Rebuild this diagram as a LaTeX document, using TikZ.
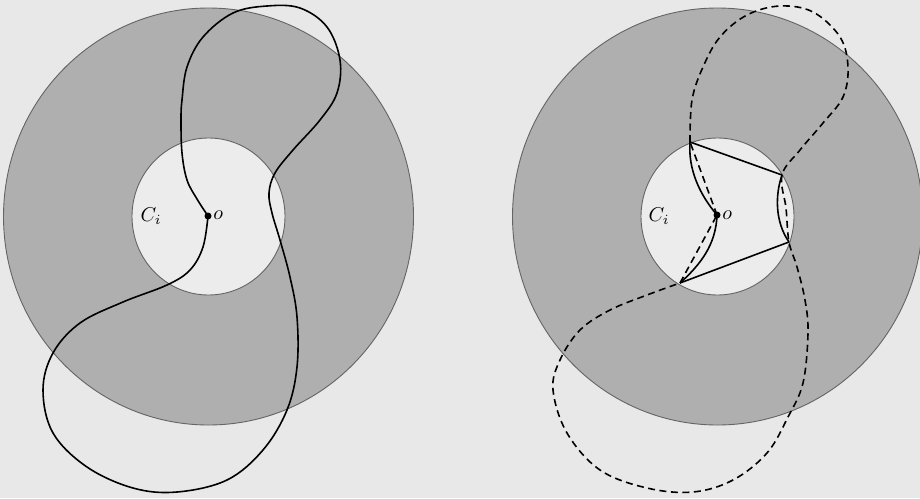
\documentclass[tikz,border=0pt]{standalone}
\begin{document}
\begin{tikzpicture}[x=1pt,y=-1pt,
  annulus/.style={fill=ringgray,draw=rimgray,line width=0.9pt,even odd rule},
  innerdisk/.style={fill=diskgray,draw=rimgray,line width=0.9pt},
  curve/.style={line width=1.6pt,black},
  dashcurve/.style={line width=1.6pt,black,dash pattern=on 7pt off 4.5pt},
  dot/.style={circle,fill=black,inner sep=0pt,minimum size=7pt},
  lab/.style={scale=2.0,inner sep=0pt}]
\definecolor{bggray}{RGB}{232,232,232}
\definecolor{ringgray}{RGB}{175,175,175}
\definecolor{diskgray}{RGB}{236,236,236}
\definecolor{rimgray}{RGB}{100,100,100}
\fill[bggray] (0,0) rectangle (920,498);
\useasboundingbox (0,0) rectangle (920,498);

% ---------- left figure ----------
\coordinate (cl) at (208.5,216.5);
\draw[annulus] (cl) ellipse [x radius=205pt, y radius=208.5pt];
\draw[innerdisk] (cl) ellipse [x radius=76.5pt, y radius=78.5pt];
\node[dot] (o1) at (208,216) {};
\node[lab,anchor=west] (lo1) at (213,215) {$o$};
\node[lab] (ci1) at (151,216) {$C_i$};
\draw[curve] plot[smooth,tension=0.6] coordinates {
 (208,216) (197,199) (187,180) (182,153) (181,120) (182,100) (187,67) (203,37)
 (233,13) (267,6) (300,8) (327,27) (340,60) (337,93) (320,120) (293,150)
 (275,173) (269,193) (272,213) (280,240) (290,277) (297,317) (297,367)
 (287,410) (263,450) (227,480) (177,492) (133,488) (87,467) (53,433)
 (43,390) (53,353) (80,323) (123,302) (167,285) (190,270) (203,247) (208,216)};

% ---------- right figure ----------
\coordinate (cr) at (717.5,216.5);
\draw[annulus] (cr) ellipse [x radius=205pt, y radius=208.5pt];
\draw[innerdisk] (cr) ellipse [x radius=76.5pt, y radius=78.5pt];
\coordinate (A) at (690,142);
\coordinate (B) at (782,175);
\coordinate (C) at (789,242);
\coordinate (D) at (680,283);
\node[dot] (o2) at (717,215) {};
\node[lab,anchor=west] (lo2) at (722,215) {$o$};
\node[lab] (ci2) at (659,216) {$C_i$};

\draw[dashcurve] (o2.center) -- (A);
\draw[dashcurve] (D) -- (o2.center);
\draw[dashcurve] plot[smooth,tension=0.6] coordinates {
 (A) (692,100) (703,67) (720,37) (747,15) (780,6) (813,12) (840,37) (848,67)
 (843,97) (823,123) (800,150) (B) (786,208) (C) (797,267) (805,300) (808,333)
 (803,383) (788,417) (767,453) (733,480) (693,492) (647,488) (600,470)
 (567,433) (553,390) (560,360) (580,330) (610,310) (647,295) (D)};

\draw[curve] (A) -- (B);
\draw[curve] (C) -- (D);
\draw[curve] (B) .. controls (775,195) and (775,222) .. (C);
\draw[curve] (A) .. controls (688,170) and (700,195) .. (o2.center);
\draw[curve] (D) .. controls (700,265) and (716,245) .. (o2.center);
\end{tikzpicture}
\end{document}
